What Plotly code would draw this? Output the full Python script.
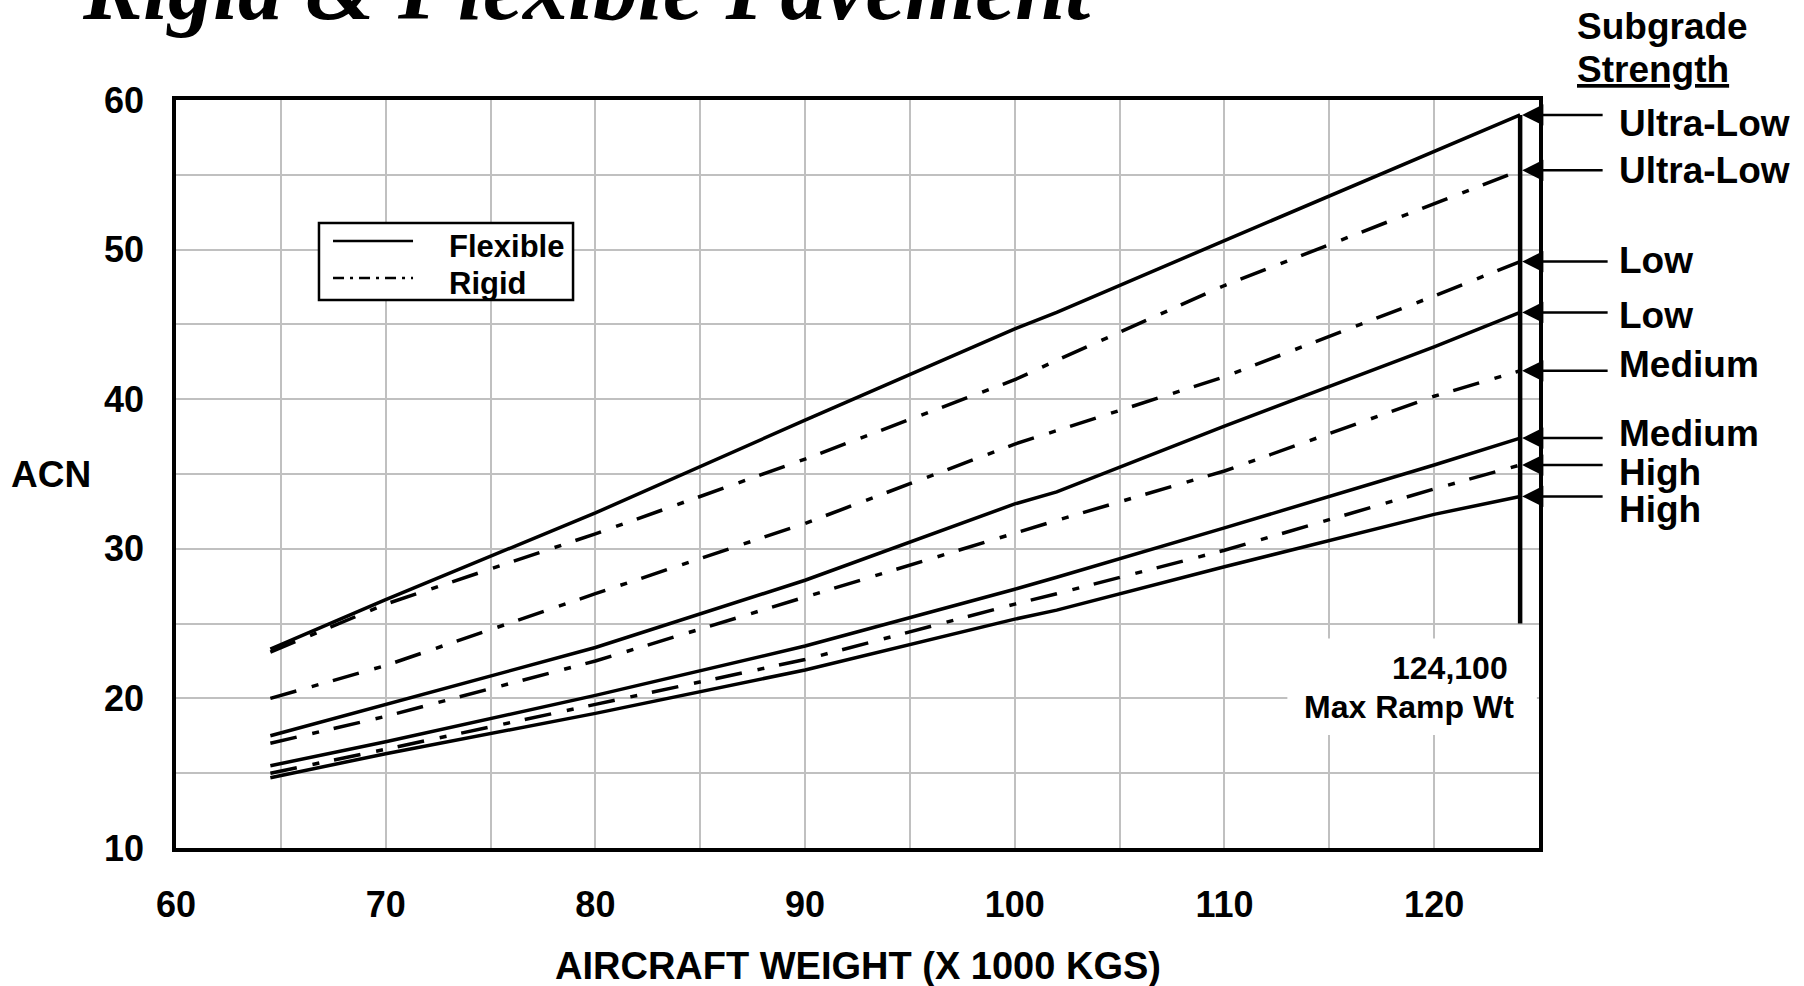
import plotly.graph_objects as go

# ---- data ----
weights = [64.5, 70, 80, 90, 100, 102, 110, 120, 124.1]

flex_ultra_low = [23.3, 26.6, 32.4, 38.6, 44.7, 45.8, 50.6, 56.6, 59.0]
flex_low = [17.5, 19.6, 23.4, 27.9, 33.0, 33.8, 38.2, 43.5, 45.8]
flex_medium = [15.5, 17.1, 20.2, 23.5, 27.3, 28.1, 31.4, 35.6, 37.4]
flex_high = [14.7, 16.3, 19.0, 21.9, 25.3, 25.9, 28.8, 32.3, 33.5]

rigid_ultra_low = [23.1, 26.3, 31.0, 36.0, 41.3, 42.6, 47.6, 53.1, 55.3]
rigid_low = [20.0, 22.2, 27.0, 31.7, 37.0, 37.9, 41.5, 46.9, 49.2]
rigid_medium = [17.0, 18.8, 22.5, 26.8, 31.1, 31.9, 35.2, 40.2, 41.9]
rigid_high = [15.0, 16.6, 19.6, 22.6, 26.3, 27.0, 29.9, 34.0, 35.6]

max_ramp_wt = 124.1
max_line_acn = [25.0, 59.0]

# right-hand labels and their vertical positions (ACN units)
end_labels = ["Ultra-Low", "Ultra-Low", "Low", "Low", "Medium", "Medium", "High", "High"]
end_label_acn = [58.4, 55.3, 49.3, 45.6, 42.35, 37.7, 35.1, 32.6]

x_ticks = [60, 65, 70, 75, 80, 85, 90, 95, 100, 105, 110, 115, 120, 125]
x_ticktext = ["60", "", "70", "", "80", "", "90", "", "100", "", "110", "", "120", ""]
y_ticks = [10, 15, 20, 25, 30, 35, 40, 45, 50, 55, 60]
y_ticktext = ["10", "", "20", "", "30", "", "40", "", "50", "", "60"]

SANS = "Liberation Sans, Arial, sans-serif"
SERIF = "Liberation Serif, Times New Roman, serif"
RIGID_DASH = "27px,16px,7px,15px"

fig = go.Figure()

flex_series = [flex_ultra_low, flex_low, flex_medium, flex_high]
rigid_series = [rigid_ultra_low, rigid_low, rigid_medium, rigid_high]
names = ["Ultra-Low", "Low", "Medium", "High"]

for nm, ys in zip(names, flex_series):
    fig.add_trace(go.Scatter(x=weights, y=ys, mode="lines", name="Flexible " + nm,
                             line=dict(color="black", width=3.5), showlegend=False))
for nm, ys in zip(names, rigid_series):
    fig.add_trace(go.Scatter(x=weights, y=ys, mode="lines", name="Rigid " + nm,
                             line=dict(color="black", width=3.5, dash=RIGID_DASH),
                             showlegend=False))

# vertical max ramp weight line
fig.add_trace(go.Scatter(x=[max_ramp_wt, max_ramp_wt], y=max_line_acn, mode="lines",
                         line=dict(color="black", width=4.5), showlegend=False,
                         hoverinfo="skip"))

# white box behind "Max Ramp Wt" text
fig.add_shape(type="rect", xref="x", yref="y", x0=113.0, x1=124.9, y0=17.55, y1=24.0,
              fillcolor="white", line=dict(width=0), layer="between")

# arrows pointing at series end values
series_ends = [flex_ultra_low[-1], rigid_ultra_low[-1], rigid_low[-1], flex_low[-1],
               rigid_medium[-1], flex_medium[-1], rigid_high[-1], flex_high[-1]]
tail_len = [84, 84, 89, 89, 89, 84, 84, 84]
for yv, tl in zip(series_ends, tail_len):
    fig.add_annotation(x=max_ramp_wt, y=yv, xref="x", yref="y", text="",
                       showarrow=True, ax=tl, ay=0, arrowhead=2, arrowsize=1.7,
                       arrowwidth=2.5, arrowcolor="black", standoff=2)

for txt, yv in zip(end_labels, end_label_acn):
    fig.add_annotation(x=1.0572, y=yv, xref="paper", yref="y", text="<b>%s</b>" % txt,
                       showarrow=False, xanchor="left", yanchor="middle",
                       font=dict(family=SANS, size=37, color="black"))

# Subgrade Strength header
fig.add_annotation(x=1.0264, y=1.0985, xref="paper", yref="paper", text="<b>Subgrade</b>",
                   showarrow=False, xanchor="left", yanchor="middle",
                   font=dict(family=SANS, size=37, color="black"))
fig.add_annotation(x=1.0264, y=1.0414, xref="paper", yref="paper",
                   text="<b><u>Strength</u></b>",
                   showarrow=False, xanchor="left", yanchor="middle",
                   font=dict(family=SANS, size=37, color="black"))

# Max ramp wt text
fig.add_annotation(x=0.9787, y=0.2406, xref="paper", yref="paper", text="<b>124,100</b>",
                   showarrow=False, xanchor="right", yanchor="middle",
                   font=dict(family=SANS, size=32, color="black"))
fig.add_annotation(x=0.9830, y=0.1885, xref="paper", yref="paper", text="<b>Max Ramp Wt</b>",
                   showarrow=False, xanchor="right", yanchor="middle",
                   font=dict(family=SANS, size=32, color="black"))

# legend (drawn manually)
fig.add_shape(type="rect", xref="paper", yref="paper", x0=0.1049, x1=0.2913,
              y0=0.7326, y1=0.8356, fillcolor="white", line=dict(color="black", width=2.5),
              layer="above")
fig.add_shape(type="line", xref="paper", yref="paper", x0=0.1152, x1=0.1739,
              y0=0.8115, y1=0.8115, line=dict(color="black", width=2.5), layer="above")
fig.add_shape(type="line", xref="paper", yref="paper", x0=0.1152, x1=0.1739,
              y0=0.7620, y1=0.7620, line=dict(color="black", width=2.5,
                                               dash="11px,6px,3px,6px"), layer="above")
fig.add_annotation(x=0.1988, y=0.8035, xref="paper", yref="paper", text="<b>Flexible</b>",
                   showarrow=False, xanchor="left", yanchor="middle",
                   font=dict(family=SANS, size=31, color="black"))
fig.add_annotation(x=0.1988, y=0.7553, xref="paper", yref="paper", text="<b>Rigid</b>",
                   showarrow=False, xanchor="left", yanchor="middle",
                   font=dict(family=SANS, size=31, color="black"))

# axis titles
fig.add_annotation(x=0.5, y=-0.1578, xref="paper", yref="paper",
                   text="<b>AIRCRAFT WEIGHT (X 1000 KGS)</b>", showarrow=False,
                   xanchor="center", yanchor="middle",
                   font=dict(family=SANS, size=38, color="black"))
fig.add_annotation(x=-0.0917, y=0.4987, xref="paper", yref="paper",
                   text="<b>ACN</b>", showarrow=False,
                   xanchor="center", yanchor="middle",
                   font=dict(family=SANS, size=37, color="black"))

# chart title (partly cut at the top)
fig.add_annotation(x=-0.0704, y=1.0802, xref="paper", yref="paper",
                   text="<b><i>Rigid &amp; Flexible Pavement</i></b>", showarrow=False,
                   xanchor="left", yanchor="bottom",
                   font=dict(family=SERIF, size=90, color="black"))

fig.update_xaxes(range=[60, 125], tickvals=x_ticks, ticktext=x_ticktext,
                 showgrid=True, gridcolor="#c0c0c0", gridwidth=2,
                 showline=True, linecolor="black", linewidth=3.5, mirror=True,
                 ticks="", ticklabelstandoff=22, zeroline=False,
                 tickfont=dict(family=SANS, size=36, color="black", weight="bold"))
fig.update_yaxes(range=[10, 60], tickvals=y_ticks, ticktext=y_ticktext,
                 showgrid=True, gridcolor="#c0c0c0", gridwidth=2,
                 showline=True, linecolor="black", linewidth=3.5, mirror=True,
                 ticks="", ticklabelstandoff=21, zeroline=False,
                 tickfont=dict(family=SANS, size=36, color="black", weight="bold"))

fig.update_layout(width=1804, height=986, autosize=False,
                  margin=dict(l=176, r=265, t=100, b=138),
                  paper_bgcolor="white", plot_bgcolor="white",
                  showlegend=False)

fig.write_html("out.html", config={"displayModeBar": False},
               post_script="document.body.style.margin='0';document.body.style.overflow='hidden';")
